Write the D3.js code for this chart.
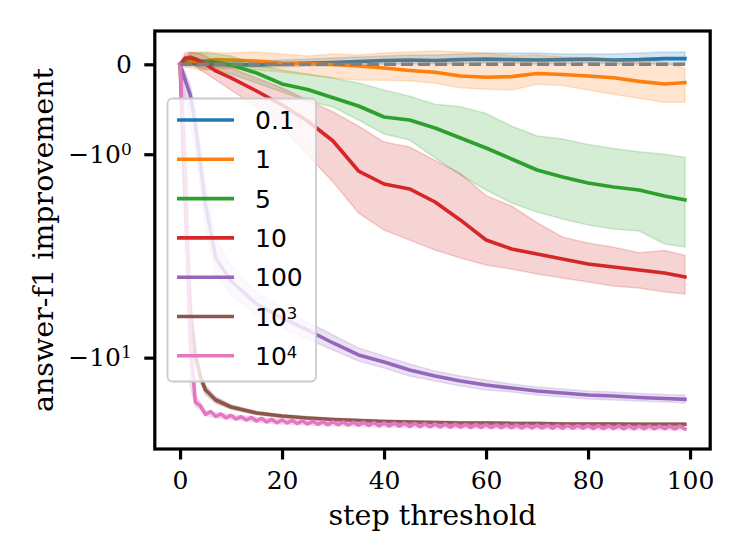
<!DOCTYPE html>
<html>
<head>
<meta charset="utf-8">
<script src="https://cdn.jsdelivr.net/npm/d3@7"></script>
<style>
  body { margin: 0; background: #fff; }
  svg { display: block; }
</style>
</head>
<body>
<div id="chart"></div>
<script>
'use strict';

const steps = [0, 1, 2, 3, 4, 5, 7, 10, 15, 20, 25, 30, 35, 40, 45, 50, 55, 60, 65, 70, 75, 80, 85, 90, 95, 99];

// 0.1
const mean01 = [0, 0.002, 0.009, 0.002, 0.002, 0.002, -0.001, -0.001, -0.005, 0.002, 0.010, 0.013, 0.020, 0.028, 0.032, 0.028, 0.035, 0.039, 0.035, 0.032, 0.035, 0.039, 0.032, 0.035, 0.043, 0.043];
const hi01   = [0.002, 0.015, 0.024, 0.024, 0.024, 0.024, 0.024, 0.024, 0.024, 0.032, 0.039, 0.047, 0.055, 0.063, 0.071, 0.071, 0.079, 0.087, 0.087, 0.087, 0.079, 0.079, 0.079, 0.087, 0.095, 0.095];
const lo01   = [-0.002, -0.012, -0.012, -0.015, -0.020, -0.020, -0.020, -0.020, -0.020, -0.020, -0.012, -0.012, -0.005, 0.002, 0.002, 0.002, 0.002, 0.010, 0.010, 0.002, 0.002, 0.010, 0.002, 0.002, 0.002, -0.005];

// 1
const mean1 = [0, 0.017, 0.024, 0.021, 0.024, 0.024, 0.035, 0.032, 0.024, 0.010, 0.006, -0.002, -0.013, -0.028, -0.046, -0.060, -0.090, -0.100, -0.095, -0.070, -0.078, -0.090, -0.105, -0.135, -0.157, -0.145];
const hi1   = [0.002, 0.060, 0.090, 0.095, 0.095, 0.095, 0.090, 0.087, 0.095, 0.079, 0.063, 0.079, 0.071, 0.087, 0.095, 0.103, 0.095, 0.087, 0.063, 0.071, 0.055, 0.047, 0.040, 0.032, 0.017, -0.030];
const lo1   = [-0.005, -0.020, -0.028, -0.035, -0.043, -0.043, -0.040, -0.028, -0.043, -0.058, -0.082, -0.106, -0.123, -0.125, -0.130, -0.150, -0.190, -0.205, -0.210, -0.160, -0.170, -0.210, -0.250, -0.290, -0.330, -0.330];

// 5
const mean5 = [0, 0.032, 0.055, 0.040, 0.025, 0.017, 0.017, -0.005, -0.066, -0.157, -0.207, -0.285, -0.368, -0.490, -0.525, -0.624, -0.757, -0.903, -1.078, -1.271, -1.404, -1.525, -1.608, -1.673, -1.808, -1.902];
const hi5   = [0.002, 0.047, 0.087, 0.087, 0.087, 0.087, 0.079, 0.063, -0.005, -0.043, -0.074, -0.106, -0.149, -0.210, -0.270, -0.350, -0.375, -0.450, -0.600, -0.730, -0.770, -0.850, -0.910, -0.960, -1.000, -1.050];
const lo5   = [-0.005, 0.002, 0.002, -0.013, -0.028, -0.035, -0.043, -0.074, -0.149, -0.229, -0.317, -0.379, -0.525, -0.702, -0.785, -1.061, -1.365, -1.673, -1.975, -2.204, -2.396, -2.570, -2.691, -2.753, -3.184, -3.291];

// 10
const mean10 = [0, 0.047, 0.047, 0.040, 0.017, 0.002, -0.050, -0.106, -0.220, -0.358, -0.537, -0.800, -1.290, -1.545, -1.650, -1.950, -2.430, -3.047, -3.364, -3.551, -3.747, -3.951, -4.078, -4.209, -4.342, -4.526];
const hi10   = [0.002, 0.087, 0.095, 0.087, 0.079, 0.063, 0.017, -0.028, -0.106, -0.193, -0.307, -0.433, -0.599, -0.814, -0.887, -1.100, -1.340, -1.800, -2.050, -2.500, -2.950, -3.150, -3.300, -3.500, -3.420, -3.600];
const lo10   = [-0.005, 0.010, 0.002, -0.013, -0.043, -0.066, -0.123, -0.211, -0.379, -0.611, -1.012, -1.504, -2.231, -2.722, -3.050, -3.401, -3.707, -3.993, -4.164, -4.387, -4.572, -4.765, -4.964, -5.066, -5.275, -5.383];

// 100
const mean100 = [0, -0.123, -0.258, -0.586, -1.181, -2.024, -3.707, -4.716, -5.950, -6.832, -7.678, -8.700, -9.752, -10.419, -11.232, -11.880, -12.447, -12.918, -13.284, -13.658, -13.912, -14.172, -14.304, -14.503, -14.638, -14.746];
const hi100   = [0.002, -0.058, -0.166, -0.411, -0.858, -1.566, -3.047, -3.993, -5.275, -6.192, -7.103, -8.057, -9.125, -9.845, -10.617, -11.337, -11.880, -12.332, -12.800, -13.161, -13.408, -13.658, -13.784, -13.978, -14.108, -14.172];
const lo100   = [-0.005, -0.258, -0.586, -0.933, -1.673, -2.722, -4.433, -5.437, -6.633, -7.530, -8.373, -9.300, -10.322, -11.024, -11.880, -12.447, -13.039, -13.533, -13.784, -14.172, -14.436, -14.706, -14.842, -14.979, -15.117, -15.259];

// 10^3
const mean1e3 = [0, -1.902, -6.315, -9.752, -11.99, -13.533, -14.842, -15.827, -16.72, -17.19, -17.50, -17.74, -17.91, -18.07, -18.15, -18.23, -18.32, -18.32, -18.40, -18.40, -18.49, -18.49, -18.52, -18.54, -18.54, -18.54];
const hi1e3   = [0, -1.5, -5.5, -9.0, -11.4, -13.0, -14.4, -15.5, -16.45, -16.95, -17.25, -17.5, -17.68, -17.84, -17.92, -18.0, -18.08, -18.08, -18.16, -18.16, -18.25, -18.25, -18.28, -18.3, -18.3, -18.3];
const lo1e3   = [0, -2.4, -7.2, -10.5, -12.6, -14.1, -15.3, -16.15, -17.0, -17.45, -17.75, -17.98, -18.15, -18.32, -18.4, -18.48, -18.57, -18.57, -18.65, -18.65, -18.74, -18.74, -18.77, -18.79, -18.79, -18.79];

// 10^4 : the mean zig-zags from one step to the next, so it is read at every step
const allSteps = d3.range(100);
const mean1e4 = [
  0, -1.27, -8.45, -15.12, -15.68, -16.95, -16.50, -17.27, -16.87, -17.50,
  -17.11, -17.66, -17.31, -17.83, -17.42, -17.99, -17.58, -18.15, -17.74, -18.28,
  -17.83, -18.32, -17.91, -18.40, -17.99, -18.49, -18.04, -18.54, -18.09, -18.59,
  -18.12, -18.62, -18.15, -18.66, -18.20, -18.71, -18.23, -18.74, -18.28, -18.80,
  -18.32, -18.83, -18.35, -18.86, -18.39, -18.90, -18.42, -18.93, -18.45, -18.97,
  -18.49, -19.00, -18.52, -19.03, -18.56, -19.05, -18.57, -19.07, -18.59, -19.09,
  -18.61, -19.10, -18.62, -19.12, -18.64, -19.14, -18.66, -19.15, -18.68, -19.17,
  -18.69, -19.17, -18.71, -19.19, -18.73, -19.21, -18.74, -19.22, -18.74, -19.22,
  -18.76, -19.24, -18.78, -19.26, -18.80, -19.26, -18.80, -19.28, -18.81, -19.29,
  -18.83, -19.29, -18.83, -19.31, -18.85, -19.31, -18.86, -19.33, -18.86, -19.35
];
const hi1e4 = [0, -0.3, -4.0, -14.2, -15.2, -16.35, -16.65, -16.95, -17.37, -17.66, -17.83, -17.96, -18.04, -18.15, -18.22, -18.28, -18.37, -18.42, -18.47, -18.50, -18.56, -18.57, -18.61, -18.64, -18.66, -18.68];
const lo1e4 = [0, -3.5, -13.0, -15.8, -16.2, -17.11, -17.42, -17.74, -18.18, -18.49, -18.66, -18.80, -18.88, -19.00, -19.07, -19.14, -19.22, -19.28, -19.33, -19.37, -19.42, -19.44, -19.47, -19.51, -19.53, -19.54];

const names  = ['0.1', '1', '5', '10', '100', '10', '10'];
const powers = ['', '', '', '', '', '3', '4'];
const colors = ['#1f77b4', '#ff7f0e', '#2ca02c', '#d62728', '#9467bd', '#8c564b', '#e377c2'];

const xTicks = [0, 20, 40, 60, 80, 100];
const yTicks = [0, -1, -10];
const yTickBase = ['0', '\u221210', '\u221210'];
const yTickPow  = ['', '0', '1'];

const series = [
  {xs: steps, mean: mean01, hi: hi01, lo: lo01},
  {xs: steps, mean: mean1, hi: hi1, lo: lo1},
  {xs: steps, mean: mean5, hi: hi5, lo: lo5},
  {xs: steps, mean: mean10, hi: hi10, lo: lo10},
  {xs: steps, mean: mean100, hi: hi100, lo: lo100},
  {xs: steps, mean: mean1e3, hi: hi1e3, lo: lo1e3},
  {xs: allSteps, mean: mean1e4, hi: hi1e4, lo: lo1e4}
].map((s, i) => Object.assign(s, {name: names[i], power: powers[i], color: colors[i]}));

// 1. size of the picture and the plot box
const width = 747, height = 560;
const box = {left: 154.8, right: 710.2, top: 31, bottom: 449};
const lineWidth = 3.6;

const svg = d3.select('#chart').append('svg')
    .attr('width', width)
    .attr('height', height);

// 2. scales: linear steps, symmetric log on the improvement
const xScale = d3.scaleLinear()
    .domain([-4.95, 103.95])
    .range([box.left, box.right]);

const yScale = d3.scaleSymlog()
    .constant(0.84)
    .domain([-23.2, 0.283])
    .range([box.bottom, box.top]);

const plot = svg.append('g');

const line = d3.line()
    .x(d => xScale(d[0]))
    .y(d => yScale(d[1]));

const area = d3.area()
    .x(d => xScale(d[0]))
    .y0(d => yScale(d[1]))
    .y1(d => yScale(d[2]));

// 3. one band and one mean line per series
series.forEach(s => {
  const band = steps.map((st, i) => [st, s.lo[i], s.hi[i]]);
  plot.append('path')
      .datum(band)
      .attr('d', area)
      .attr('fill', s.color)
      .attr('fill-opacity', 0.2)
      .attr('stroke', s.color)
      .attr('stroke-opacity', 0.2)
      .attr('stroke-width', 1.5);

  plot.append('path')
      .datum(s.xs.map((st, i) => [st, s.mean[i]]))
      .attr('d', line)
      .attr('fill', 'none')
      .attr('stroke', s.color)
      .attr('stroke-width', lineWidth)
      .attr('stroke-linejoin', 'round')
      .attr('stroke-linecap', 'square');
});

// 4. dashed reference at zero
plot.append('path')
    .datum([[d3.min(steps), 0], [d3.max(steps), 0]])
    .attr('d', line)
    .attr('fill', 'none')
    .attr('stroke', '#808080')
    .attr('stroke-width', lineWidth)
    .attr('stroke-dasharray', '12,5');

// 5. axes
const tickFont = 'DejaVu Serif, serif';

const xAxis = svg.append('g')
    .attr('transform', 'translate(0,' + box.bottom + ')')
    .call(d3.axisBottom(xScale).tickValues(xTicks).tickSize(10.5).tickPadding(12));

const yAxis = svg.append('g')
    .attr('transform', 'translate(' + box.left + ',0)')
    .call(d3.axisLeft(yScale).tickValues(yTicks).tickSize(10.5).tickPadding(12.5));

[xAxis, yAxis].forEach(ax => {
  ax.select('.domain').remove();
  ax.selectAll('.tick line').attr('stroke', '#000').attr('stroke-width', 3.2);
  ax.selectAll('.tick text')
      .attr('fill', '#000')
      .style('font-family', tickFont)
      .style('font-size', '25px');
});

yAxis.selectAll('.tick text').each(function(d, i) {
  const t = d3.select(this).text(null);
  t.append('tspan').text(yTickBase[i]);
  if (yTickPow[i]) {
    t.append('tspan')
        .attr('dy', '-0.46em')
        .style('font-size', '17px')
        .text(yTickPow[i]);
  }
});

// 6. frame
svg.append('rect')
    .attr('x', box.left)
    .attr('y', box.top)
    .attr('width', box.right - box.left)
    .attr('height', box.bottom - box.top)
    .attr('fill', 'none')
    .attr('stroke', '#000')
    .attr('stroke-width', 3.2);

// 7. axis titles
svg.append('text')
    .attr('x', (box.left + box.right) / 2)
    .attr('y', 525)
    .attr('text-anchor', 'middle')
    .style('font-family', tickFont)
    .style('font-size', '28.5px')
    .text('step threshold');

svg.append('text')
    .attr('transform', 'translate(53,' + (box.top + box.bottom) / 2 + ') rotate(-90)')
    .attr('text-anchor', 'middle')
    .style('font-family', tickFont)
    .style('font-size', '28.5px')
    .text('answer-f1 improvement');

// 8. legend
const legend = svg.append('g');
legend.append('rect')
    .attr('x', 167.5)
    .attr('y', 98.5)
    .attr('width', 148.5)
    .attr('height', 283)
    .attr('rx', 5)
    .attr('fill', '#fff')
    .attr('fill-opacity', 0.8)
    .attr('stroke', '#cccccc')
    .attr('stroke-width', 1.8);

const rows = legend.selectAll('.row')
    .data(series)
    .enter().append('g')
    .attr('class', 'row')
    .attr('transform', (d, i) => 'translate(0,' + (120 + i * 39.3) + ')');

rows.append('line')
    .attr('x1', 177)
    .attr('x2', 234)
    .attr('stroke', d => d.color)
    .attr('stroke-width', lineWidth)
    .attr('stroke-linecap', 'butt');

const labels = rows.append('text')
    .attr('x', 255)
    .attr('dy', '0.36em')
    .style('font-family', 'DejaVu Sans, sans-serif')
    .style('font-size', '25px');
labels.append('tspan').text(d => d.name);
labels.filter(d => d.power).append('tspan')
    .attr('dy', '-0.42em')
    .style('font-size', '16.5px')
    .text(d => d.power);
</script>
</body>
</html>
